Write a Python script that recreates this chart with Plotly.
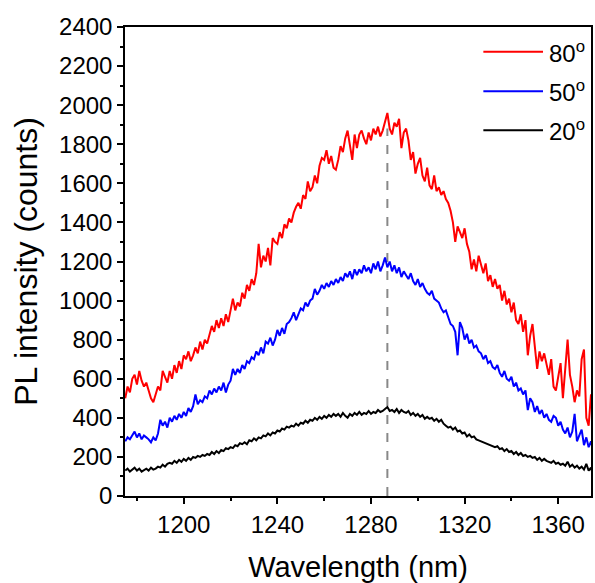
import plotly.graph_objects as go

wavelength = list(range(1175, 1376))

pl_80 = [500, 560, 530, 600, 620, 570, 640, 590, 560, 580,
         540, 500, 480, 520, 560, 540, 640, 610, 580, 640,
         600, 670, 630, 690, 650, 720, 700, 740, 690, 720,
         760, 730, 790, 750, 800, 780, 830, 870, 840, 900,
         860, 910, 870, 930, 890, 960, 1010, 950, 990, 970,
         1040, 1010, 1080, 1050, 1110, 1080, 1140, 1290, 1170, 1230,
         1200, 1270, 1180, 1320, 1300, 1290, 1350, 1320, 1390, 1370,
         1420, 1400, 1450, 1480, 1500, 1470, 1540, 1520, 1610, 1560,
         1580, 1640, 1600, 1690, 1730, 1720, 1770, 1700, 1740, 1680,
         1670, 1720, 1790, 1760, 1830, 1870, 1800, 1720, 1850, 1780,
         1850, 1870, 1830, 1800, 1860, 1820, 1880, 1850, 1890, 1840,
         1870, 1920, 1960, 1880, 1850, 1910, 1890, 1930, 1780, 1860,
         1880, 1820, 1720, 1760, 1650, 1700, 1730, 1640, 1610, 1680,
         1590, 1570, 1640, 1560, 1580, 1540, 1560, 1520, 1500, 1460,
         1400, 1300, 1380, 1350, 1320, 1370, 1290, 1250, 1160, 1210,
         1150, 1230, 1180, 1140, 1190, 1100, 1130, 1070, 1110, 1060,
         1080, 1000, 1050, 980, 1010, 940, 990, 900, 880, 930,
         840, 900, 720, 820, 880, 760, 650, 740, 690, 730,
         680, 620, 700, 560, 540, 620, 680, 500, 640, 800,
         620, 560, 480, 540, 510, 700, 750, 400, 360, 520,
         480]

pl_50 = [280, 300, 290, 310, 330, 300, 320, 290, 310, 300,
         290, 275, 300, 285, 320, 390, 360, 380, 350, 400,
         380, 410, 390, 420, 400, 430, 410, 450, 430, 460,
         520, 470, 490, 480, 510, 500, 540, 520, 550, 530,
         560, 540, 580, 530, 570, 590, 650, 620, 650, 630,
         670, 650, 690, 680, 710, 700, 740, 720, 760, 730,
         790, 780, 810, 770, 800, 850, 820, 860, 830, 880,
         890, 910, 940, 900, 930, 960, 950, 990, 970, 1000,
         1010, 1060, 1030, 1050, 1080, 1060, 1090, 1070, 1100, 1080,
         1110, 1090, 1120, 1100, 1140, 1120, 1150, 1110, 1160, 1130,
         1160, 1140, 1180, 1150, 1170, 1140, 1190, 1160, 1200, 1150,
         1180, 1220, 1170, 1200, 1150, 1180, 1140, 1170, 1120, 1150,
         1130, 1110, 1140, 1100, 1080, 1110, 1070, 1090, 1060, 1040,
         1030, 1050, 1010, 1000, 990, 960, 940, 950, 910, 880,
         870, 840, 720, 890, 860, 800, 830, 780, 800, 760,
         770, 740, 730, 700, 720, 680, 690, 660, 650, 670,
         630, 610, 640, 600, 590, 610, 560, 580, 540, 550,
         520, 540, 440, 500, 480, 430, 460, 420, 440, 400,
         420, 390, 380, 410, 400, 360, 380, 340, 320, 350,
         300, 330, 420, 280, 310, 340, 260, 300, 250, 280,
         230]

pl_20 = [130, 140, 125, 135, 145, 130, 140, 125, 135, 140,
         130, 145, 135, 140, 150, 145, 160, 150, 165, 170,
         165, 180, 170, 185, 175, 190, 180, 195, 185, 200,
         195, 205, 200, 210, 205, 215, 210, 225, 215, 230,
         220, 235, 230, 245, 240, 250, 245, 260, 255, 270,
         265, 275, 265, 285, 280, 295, 285, 300, 295, 310,
         305, 320, 310, 325, 320, 335, 330, 345, 340, 355,
         350, 360, 355, 370, 360, 375, 370, 385, 375, 390,
         385, 400, 390, 405, 395, 410, 400, 415, 405, 420,
         410, 420, 405, 425, 410, 400, 420, 410, 425, 415,
         430, 415, 425, 420, 435, 420, 430, 425, 440, 430,
         435, 445, 455, 435, 440, 430, 445, 425, 440, 430,
         425, 435, 415, 425, 410, 420, 405, 415, 395, 405,
         395, 400, 385, 395, 380, 390, 370, 360, 350, 355,
         340, 350, 330, 335, 320, 325, 305, 315, 300, 305,
         290, 285, 280, 275, 270, 265, 260, 255, 250, 255,
         240, 245, 230, 240, 225, 230, 215, 225, 210, 220,
         205, 210, 200, 205, 195, 200, 185, 195, 180, 190,
         180, 175, 170, 180, 165, 170, 160, 165, 155, 175,
         150, 160, 145, 155, 140, 150, 135, 165, 130, 145,
         100]

series_names = ["80<sup>o</sup>", "50<sup>o</sup>", "20<sup>o</sup>"]
series_colors = ["#FF0000", "#0000FF", "#000000"]
series_values = [pl_80, pl_50, pl_20]

peak_wavelength = 1287
peak_line_top = 1880

x_ticks = [1200, 1240, 1280, 1320, 1360]
y_ticks = list(range(0, 2401, 200))

FONT = "Liberation Sans, Arial, sans-serif"

fig = go.Figure()
for name, color, vals in zip(series_names, series_colors, series_values):
    fig.add_trace(go.Scatter(x=wavelength, y=vals, mode="lines", name=name,
                             line=dict(color=color, width=2), showlegend=False))

fig.add_shape(type="line", xref="x", yref="y", x0=peak_wavelength, x1=peak_wavelength,
              y0=0, y1=peak_line_top, line=dict(color="#888888", width=2, dash="dash"), layer="below")

# manual legend
leg_y = [0.947, 0.863, 0.780]
for name, color, yy in zip(series_names, series_colors, leg_y):
    fig.add_shape(type="line", xref="paper", yref="paper", x0=0.769, x1=0.897, y0=yy, y1=yy,
                  line=dict(color=color, width=2))
    fig.add_annotation(xref="paper", yref="paper", x=0.905, y=yy, text=name, showarrow=False,
                       xanchor="left", yanchor="middle", font=dict(family=FONT, size=24, color="black"))

fig.update_layout(
    width=595, height=583,
    margin=dict(l=125, r=2, t=27, b=87),
    paper_bgcolor="white", plot_bgcolor="white",
    font=dict(family=FONT, color="black"),
)
fig.update_xaxes(range=[1174.9, 1374.0], tickvals=x_ticks, ticktext=[str(v) for v in x_ticks],
                 ticks="outside", ticklen=6, tickwidth=1.5, tickcolor="black",
                 minor=dict(dtick=20, tick0=1180, ticks="outside", ticklen=3, tickwidth=1.5, tickcolor="black"),
                 showline=True, linecolor="black", linewidth=1.5, mirror=True, showgrid=False, zeroline=False,
                 tickfont=dict(size=24, family=FONT),
                 title=dict(text="Wavelength (nm)", font=dict(size=29, family=FONT), standoff=22))
fig.update_yaxes(range=[0, 2400], tickvals=y_ticks, ticktext=[str(v) for v in y_ticks],
                 ticks="outside", ticklen=6, tickwidth=1.5, tickcolor="black",
                 minor=dict(dtick=100, tick0=0, ticks="outside", ticklen=3, tickwidth=1.5, tickcolor="black"),
                 showline=True, linecolor="black", linewidth=1.5, mirror=True, showgrid=False, zeroline=False,
                 tickfont=dict(size=24, family=FONT),
                 title=dict(text="PL intensity (counts)", font=dict(size=32, family=FONT), standoff=12))

fig.write_html("out.html")
